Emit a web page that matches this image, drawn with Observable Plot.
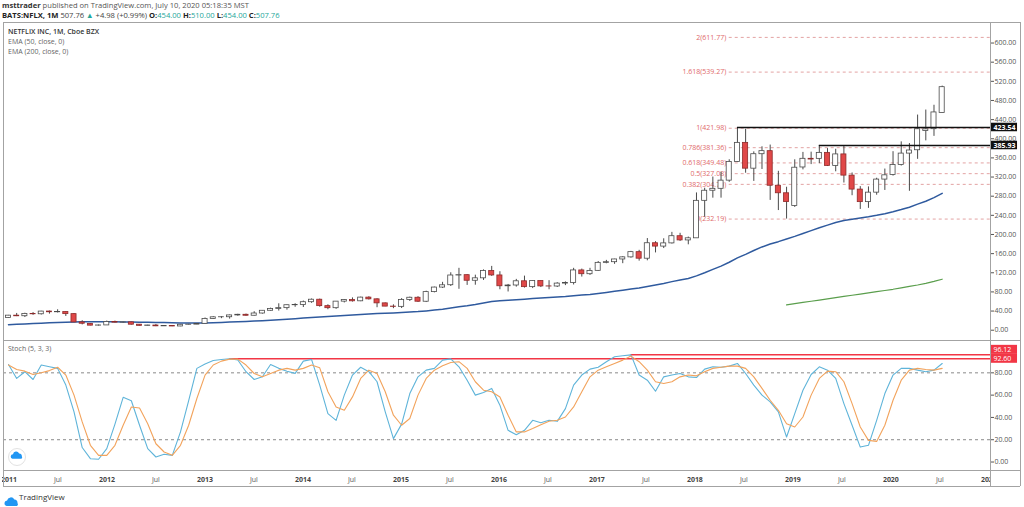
<!DOCTYPE html>
<html><head><meta charset="utf-8">
<script src="https://cdn.jsdelivr.net/npm/d3@7"></script>
<script src="https://cdn.jsdelivr.net/npm/@observablehq/plot@0.6"></script>
<style>
body{margin:0;background:#fff;font-family:"Open Sans",sans-serif;}
#c{position:relative;width:1024px;height:507px;overflow:hidden;background:#fff;}
.abs{position:absolute;white-space:nowrap;}
.ln{position:absolute;background:#a3a3a3;}
.t{color:#26a69a;}
svg{overflow:visible;}
</style></head><body><div id="c"></div>
<script>
// ---------- DATA (month index 0 = Jan 2011) ----------
const open = [
 25.3,30.4,29.2,34.0,33.3,39.0,37.5,37.9,33.6,16.3,13.2,9.6,
 10.0,17.3,15.8,16.4,11.5,9.1,9.8,8.1,8.7,7.8,11.4,11.6,
 13.3,23.6,27.0,27.1,30.9,32.2,30.2,34.9,40.6,44.2,46.1,52.2,
 52.6,58.5,63.7,50.3,46.0,59.7,62.9,60.4,68.1,64.5,56.1,49.3,
 48.8,63.1,67.8,59.5,79.6,89.1,94.0,114.3,115.0,103.3,108.4,123.8,
 114.4,91.8,93.4,102.2,90.0,102.6,91.5,91.3,97.4,98.6,124.9,117.0,
 124.0,140.7,142.1,147.8,152.2,163.1,149.4,181.7,174.7,181.4,196.4,187.6,
 192.0,270.3,291.4,295.4,312.5,351.6,391.4,337.5,367.7,374.1,301.8,286.1,
 259.3,340.0,358.1,358.0,370.5,343.3,367.3,323.0,293.8,267.6,287.4,314.7,
 324.4,345.1,369.0,376.0,416.0,420.0,454.0];
const high = [
 30.9,35.0,35.5,36.8,39.5,40.0,42.7,38.5,34.6,19.8,13.4,10.9,
 19.1,19.0,17.1,16.8,11.9,10.4,12.0,9.1,9.1,11.6,12.3,13.9,
 25.5,28.2,28.1,31.8,33.3,33.7,38.6,41.0,46.1,55.2,52.6,55.3,
 60.9,65.2,65.0,53.1,59.8,63.7,67.5,69.0,69.9,65.7,56.8,53.0,
 66.0,69.1,70.0,81.5,90.0,100.0,120.0,129.3,116.0,115.0,126.0,133.3,
 122.2,95.6,106.2,113.0,103.0,103.1,103.5,99.3,101.0,129.3,127.7,129.3,
 143.5,145.9,148.3,153.5,164.7,166.9,191.5,185.0,191.0,204.4,202.5,194.6,
 286.8,296.6,320.0,330.0,356.1,421.98,419.8,372.6,383.2,386.8,332.0,298.7,
 356.0,371.5,372.0,385.93,379.4,378.0,385.0,328.5,300.0,299.4,317.5,336.7,
 373.0,393.5,390.0,449.5,460.0,470.0,510.0];
const low = [
 24.7,28.4,26.5,31.1,31.7,33.6,36.0,28.7,15.6,11.1,9.2,8.5,
 9.9,15.1,14.6,10.8,8.9,8.6,7.5,7.7,7.5,7.4,10.9,11.6,
 13.3,23.0,24.1,23.2,29.2,29.3,29.7,33.6,39.8,40.0,41.9,47.9,
 47.4,56.2,48.1,42.8,43.6,57.0,58.8,59.6,63.0,47.0,49.2,45.0,
 45.3,60.0,58.0,57.8,78.0,87.3,91.3,85.5,93.6,94.0,104.0,112.5,
 84.5,79.9,90.0,88.0,87.0,89.1,84.5,89.2,93.2,94.5,111.0,114.5,
 123.0,138.8,137.6,139.0,150.5,144.3,145.0,161.5,170.6,180.0,185.5,178.4,
 193.0,236.1,275.9,275.9,309.0,351.0,328.0,310.9,335.8,271.2,250.0,232.19,
 256.6,335.0,346.0,348.0,342.0,331.0,307.5,281.0,252.3,254.6,282.0,292.0,
 322.0,343.0,290.25,357.0,395.6,405.0,454.0];
const close = [
 30.4,29.1,34.0,33.3,38.9,37.5,37.9,33.6,16.2,13.5,9.5,9.9,
 17.2,15.8,16.4,11.5,9.1,9.8,8.1,8.7,7.8,11.4,11.6,13.2,
 23.6,26.9,27.1,30.9,32.2,30.2,34.9,40.6,44.2,46.1,52.2,52.6,
 58.5,63.7,50.3,46.0,59.7,62.9,60.4,68.1,64.5,56.1,49.3,48.8,
 63.1,67.8,59.5,79.6,89.1,93.8,114.3,115.0,103.3,108.4,123.8,114.4,
 91.8,93.4,102.2,90.0,102.6,91.5,91.3,97.4,98.6,124.9,117.0,123.8,
 140.7,142.1,147.8,152.2,163.1,149.4,181.7,174.7,181.4,196.4,187.6,192.0,
 270.3,291.4,295.4,312.5,351.6,391.4,337.5,367.7,374.1,301.8,286.1,267.7,
 339.5,358.1,356.6,370.5,343.3,367.3,323.0,293.8,267.6,287.4,314.7,323.6,
 345.1,369.0,375.5,419.9,419.7,455.0,507.76];
const ema50 = [
 11.3,12.2,13.1,13.9,14.7,15.5,16.2,16.8,17.3,17.6,17.8,17.9,
 17.8,17.6,17.4,17.1,16.8,16.5,16.2,15.9,15.6,15.3,15.1,14.9,
 15.3,15.8,16.3,16.9,17.6,18.3,19.0,19.9,20.8,21.8,22.9,24.0,
 25.3,26.6,27.7,28.6,29.7,30.9,31.9,33.0,34.0,34.8,35.5,36.2,
 37.0,38.0,38.9,40.3,42.0,44.0,46.5,49.0,51.0,53.5,57.0,60.0,
 61.3,62.5,63.8,64.9,66.1,67.1,68.1,69.2,70.3,71.8,73.3,74.8,
 76.9,79.0,81.2,83.5,86.0,88.2,91.5,94.5,97.7,101.5,104.8,108.0,
 113.5,120.0,127.0,134.0,142.0,151.0,158.5,166.5,174.0,180.0,185.0,190.5,
 196.0,202.0,208.0,214.0,219.5,225.0,229.0,232.0,234.5,237.0,240.0,243.5,
 247.5,252.0,257.0,263.5,269.5,277.0,286.0];
const ema200Start = 95;
const ema200 = [53,55.5,58,60.5,63,65.5,68,70.5,73,75.5,78,80.5,83,85.5,88.5,91.5,94.5,98,102,106.5];
const stochK = [
 87.5,75,81,74,87,85.5,84,69,45,13,3,2.5,
 12,34,58,55,33,12,4.5,7,6,27,55,84,
 88,91,92,92.6,91.5,81,74,76.5,87.5,84,81.5,79.5,
 90.5,92,69,43.4,37.4,60,78,85,81,72,45,21,
 34,61.4,76.4,82.4,84,91.4,92.5,85.4,73.4,60,62.3,66,
 51,28.4,24.5,28.4,37.4,35.3,37.4,36.5,47.9,69,78,83.3,
 85,90,94.4,95.3,96.12,78,73.4,63.5,76.4,78,79.4,76.4,
 75.8,83.3,85.4,85,86,88.4,79.4,69,60,54,45,22.4,
 43.4,64.4,78.5,85.4,82.4,75,52.4,33,13.4,15,37.4,61.4,
 78,84,84,82.4,81,82.4,88.4];
const stochD = [
 87,83,81.5,78.5,80,82,85,78,60,36,15,6,
 6,15,33,49.4,48.5,34.4,16.4,9,6,15,33,57,
 78,87,90.5,92.3,92.3,87,79.4,76.4,79.4,82.4,84,82.4,
 84,87,84.5,63,49.4,46.4,58.4,75,82.4,79.4,63,42,
 33,39,60,75,82.4,86.3,89.3,90,84,72,64.4,63,
 58.4,42,27,27,30,33.5,36.5,37.4,40.4,49.4,63,76.4,
 82.4,85.4,88.4,91.4,95,90,82.4,72,70.4,72,76.4,78,
 77.3,81,84,85,86,86,84,76.4,66,55.4,46.4,34.4,
 31.4,40.4,60,75,81.5,81,72,52.4,31.4,19.4,18.5,33,
 55.4,73.4,82.4,84,83,82.4,84];
const fibLevels = ["0","0.382","0.5","0.618","0.786","1","1.618","2"];
const fibValues = [232.19,304.70,327.08,349.48,381.36,421.98,539.27,611.77];
const fibStart = 88;
const rayValues = [423.54, 385.93];
const rayStarts = [89, 99];
const stochLineValues = [96.12, 92.60];
const stochLineStarts = [76, 27];
const priceTicks = [0,40,80,120,160,200,240,280,320,360,400,440,480,520,560,600];
const stochTicks = [0,20,40,60,80];
const timeTicks = [0,6,12,18,24,30,36,42,48,54,60,66,72,78,84,90,96,102,108,114,120];
const timeLabels = ["2011","Jul","2012","Jul","2013","Jul","2014","Jul","2015","Jul","2016","Jul","2017","Jul","2018","Jul","2019","Jul","2020","Jul","2021"];

// ---------- BUILD ----------
const C = document.getElementById("c");
const xMin = -0.61, xMax = 119.9;
const candles = close.map((c,i)=>({m:i,o:open[i],h:high[i],l:low[i],c,up:c>=open[i]}));
const emaA = ema50.map((v,i)=>({m:i,v}));
const emaB = ema200.map((v,i)=>({m:ema200Start+i,v}));
const fibs = fibValues.map((v,i)=>({v,label:fibLevels[i]+"("+v.toFixed(2)+")"}));
const rays = rayValues.map((v,i)=>({v,from:rayStarts[i]}));
const sLines = stochLineValues.map((v,i)=>({v,from:stochLineStarts[i]}));
const K = stochK.map((v,i)=>({m:i,v})), D = stochD.map((v,i)=>({m:i,v}));
const baseStyle = {fontFamily:"'Open Sans',sans-serif",fontSize:"7px",color:"#555",background:"transparent",overflow:"visible"};

function place(el,left,top){el.style.position="absolute";el.style.left=left+"px";el.style.top=top+"px";C.appendChild(el);}

const main = Plot.plot({
  width:1024,height:319,marginTop:0,marginBottom:0,marginLeft:3,marginRight:34,
  style:baseStyle,
  x:{type:"linear",domain:[xMin,xMax],axis:null},
  y:{domain:[-23.6,642.9],axis:"right",ticks:priceTicks,tickFormat:d=>d.toFixed(2),tickSize:3,tickPadding:1,label:null},
  marks:[
    Plot.ruleY(fibs,{y:"v",x1:fibStart,x2:xMax,stroke:"#e3a3a3",strokeWidth:1,strokeDasharray:"3,3"}),
    Plot.text(fibs,{x:fibStart,y:"v",text:"label",textAnchor:"end",dx:-3,fill:"#e06a6a"}),
    Plot.line(emaA,{x:"m",y:"v",stroke:"#2f5a9e",strokeWidth:1.5}),
    Plot.line(emaB,{x:"m",y:"v",stroke:"#5a9e4c",strokeWidth:1.2}),
    Plot.ruleX(candles,{x:"m",y1:"l",y2:"h",stroke:"#4a4a4a",strokeWidth:1}),
    Plot.rect(candles.filter(d=>d.up),{x1:d=>d.m-0.31,x2:d=>d.m+0.31,y1:"o",y2:"c",fill:"#fff",stroke:"#4a4a4a",strokeWidth:0.8}),
    Plot.rect(candles.filter(d=>!d.up),{x1:d=>d.m-0.31,x2:d=>d.m+0.31,y1:"o",y2:"c",fill:"#e04848",stroke:"#8e2a2a",strokeWidth:0.8}),
    Plot.ruleY(rays,{y:"v",x1:"from",x2:xMax,stroke:"#111",strokeWidth:1.5}),
    Plot.rect(rays,{x1:xMax,x2:xMax+3.3,y1:d=>d.v-8.9,y2:d=>d.v+8.9,fill:"#111"}),
    Plot.text(rays,{x:xMax,y:"v",dx:3,textAnchor:"start",text:d=>d.v.toFixed(2),fill:"#fff",fontWeight:"bold"})
  ]
});
place(main,0,22);

const stoch = Plot.plot({
  width:1024,height:130,marginTop:0,marginBottom:0,marginLeft:3,marginRight:34,
  style:baseStyle,
  x:{type:"linear",domain:[xMin,xMax],axis:null},
  y:{domain:[-8.5,108.1],axis:"right",ticks:stochTicks,tickFormat:d=>d.toFixed(2),tickSize:3,tickPadding:1,label:null},
  marks:[
    Plot.ruleY([80,20],{stroke:"#8a8a8a",strokeWidth:1,strokeDasharray:"3,3"}),
    Plot.ruleY(sLines,{y:"v",x1:"from",x2:xMax,stroke:"#f23645",strokeWidth:1.5}),
    Plot.line(K,{x:"m",y:"v",stroke:"#5fb4d9",strokeWidth:1.1}),
    Plot.line(D,{x:"m",y:"v",stroke:"#f2a35c",strokeWidth:1.1}),
    Plot.rect(sLines,{x1:xMax,x2:xMax+3.3,y1:d=>d.v-4.05,y2:d=>d.v+4.05,dy:(d=>0),fill:"#f23645"}),
    Plot.text(sLines,{x:xMax,y:"v",dx:3,textAnchor:"start",text:d=>d.v.toFixed(2),fill:"#fff"})
  ]
});
place(stoch,0,340.5);
// nudge upper stoch label up (overlap avoidance like TradingView)
{
  const gs = stoch.querySelectorAll("g[aria-label='rect'] rect, g[aria-label='text'] text");
}

const timeAx = Plot.plot({
  width:990,height:16,marginTop:0,marginBottom:0,marginLeft:3,marginRight:0,
  style:baseStyle,
  x:{type:"linear",domain:[xMin,xMax],axis:null},
  marks:[
    Plot.text(timeTicks.filter((d,i)=>i%2===0),{x:d=>d,text:d=>timeLabels[timeTicks.indexOf(d)],frameAnchor:"middle",fill:"#444",fontWeight:"bold"}),
    Plot.text(timeTicks.filter((d,i)=>i%2===1),{x:d=>d,text:d=>timeLabels[timeTicks.indexOf(d)],frameAnchor:"middle",fill:"#555"})
  ]
});
const clip = document.createElement("div");
clip.style.cssText="position:absolute;left:2px;top:470.5px;width:988px;height:16px;overflow:hidden;";
timeAx.style.marginLeft="-2px";
clip.appendChild(timeAx);
C.appendChild(clip);

// shift 96.12 label box up to avoid overlap
(function(){
  const rects = stoch.querySelectorAll("g[aria-label='rect'] rect");
  const texts = stoch.querySelectorAll("g[aria-label='text'] text");
  if(rects[0]) rects[0].setAttribute("transform","translate(0,-5)");
  if(texts[0]) texts[0].setAttribute("transform",(texts[0].getAttribute("transform")||"")+" translate(0,-5)");
})();

// ---------- FRAME LINES & TEXT ----------
const lines = [
  [3,22,1017,1],[3,340,1017,1],[3,470,1017,1],[3,485.5,1017,1],
  [3,22,1,464],[990,22,1,464],[1020,22,1,464]
];
for(const [l,t,w,h] of lines){const d=document.createElement("div");d.className="ln";d.style.cssText+=`left:${l}px;top:${t}px;width:${w}px;height:${h}px;`;C.appendChild(d);}

function txt(html,left,top,css){const d=document.createElement("div");d.className="abs";d.innerHTML=html;d.style.left=left+"px";d.style.top=top+"px";d.style.cssText+=css||"";C.appendChild(d);}
txt('<b style="color:#333">msttrader</b> published on TradingView.com, July 10, 2020 05:18:35 MST',2,0,"font-size:7.6px;line-height:10px;color:#555;");
txt('<b style="color:#222">BATS:NFLX, 1M</b> 507.76 <span class="t">▲</span> +4.98 (+0.99%) <b style="color:#222">O:</b><span class="t">454.00</span> <b style="color:#222">H:</b><span class="t">510.00</span> <b style="color:#222">L:</b><span class="t">454.00</span> <b style="color:#222">C:</b><span class="t">507.76</span>',2,10,"font-size:7.6px;line-height:10px;color:#444;");
txt('NETFLIX INC, 1M, Cboe BZX',8,26.5,"font-size:7px;line-height:10px;color:#333;font-weight:600;");
txt('EMA (50, close, 0)',8,36.5,"font-size:7px;line-height:10px;color:#666;");
txt('EMA (200, close, 0)',8,46.5,"font-size:7px;line-height:10px;color:#666;");
txt('Stoch (5, 3, 3)',8,344,"font-size:7px;line-height:10px;color:#666;");

const cloud = '<path d="M3.5 11 a2.8 2.8 0 0 1 0.6-5.5 a3.8 3.8 0 0 1 7.2-0.9 a3 3 0 0 1 3.2 3.4 a2.2 2.2 0 0 1 -0.4 3 z" fill="#2196f3"/>';
txt('<svg width="18" height="18" viewBox="0 0 18 18"><circle cx="9" cy="9" r="8.5" fill="#fff" stroke="#e2e2e2"/><g transform="translate(1.5,1.5) scale(0.85)">'+cloud+'</g></svg>',8,448,"");
txt('<svg width="16" height="12" viewBox="0 0 16 12">'+cloud+'</svg>',3,490,"");
txt('TradingView',19,491,"font-size:8px;line-height:11px;color:#333;");
</script></body></html>
